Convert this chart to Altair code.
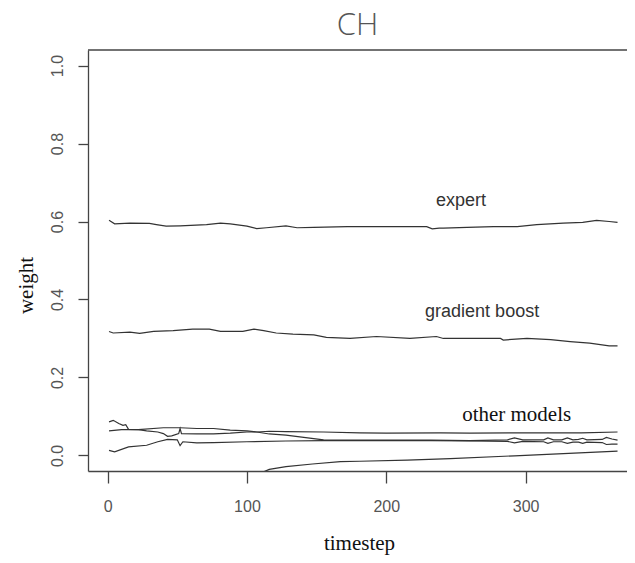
import altair as alt
import pandas as pd

# ---- data ----
expert_t = [1, 5, 16, 30, 35, 42, 52, 71, 81, 88, 100, 107, 114, 128, 136, 148, 172, 190, 229, 233, 238, 241, 258, 277, 294, 308, 327, 341, 351, 360, 366]
expert_v = [0.603, 0.594, 0.596, 0.595, 0.592, 0.588, 0.589, 0.592, 0.596, 0.594, 0.588, 0.582, 0.584, 0.589, 0.584, 0.585, 0.587, 0.587, 0.587, 0.581, 0.583, 0.583, 0.585, 0.587, 0.587, 0.592, 0.596, 0.598, 0.603, 0.600, 0.598]

gb_t = [1, 4, 16, 23, 33, 47, 61, 73, 81, 97, 105, 112, 121, 133, 148, 157, 174, 193, 217, 236, 241, 282, 284, 301, 318, 332, 346, 360, 366]
gb_v = [0.318, 0.314, 0.316, 0.313, 0.318, 0.320, 0.324, 0.324, 0.318, 0.318, 0.324, 0.320, 0.314, 0.311, 0.309, 0.303, 0.300, 0.305, 0.300, 0.305, 0.300, 0.300, 0.296, 0.300, 0.297, 0.292, 0.288, 0.281, 0.281]

b_t = [1, 10, 22, 40, 52, 64, 76, 88, 100, 107, 116, 128, 155, 181, 200, 239, 260, 300, 340, 366]
b_v = [0.063, 0.066, 0.066, 0.071, 0.071, 0.069, 0.069, 0.065, 0.063, 0.060, 0.062, 0.061, 0.060, 0.058, 0.057, 0.058, 0.057, 0.058, 0.058, 0.060]

a_t = [1, 4, 8, 11, 13, 15, 22, 28, 36, 40, 43, 46, 51, 52, 53, 64, 76, 88, 100, 107, 116, 128, 155, 181, 232, 260, 287, 292, 298, 313, 316, 320, 326, 330, 334, 338, 341, 344, 355, 358, 362, 366]
a_v = [0.086, 0.090, 0.082, 0.077, 0.079, 0.067, 0.066, 0.063, 0.060, 0.056, 0.049, 0.050, 0.056, 0.069, 0.056, 0.055, 0.055, 0.057, 0.060, 0.060, 0.055, 0.052, 0.040, 0.039, 0.039, 0.038, 0.040, 0.045, 0.040, 0.040, 0.045, 0.040, 0.040, 0.045, 0.040, 0.041, 0.044, 0.040, 0.041, 0.046, 0.042, 0.039]

c_t = [1, 5, 15, 28, 36, 43, 50, 52, 54, 64, 76, 100, 128, 155, 181, 232, 260, 287, 292, 298, 313, 316, 320, 326, 330, 334, 338, 341, 344, 355, 358, 362, 366]
c_v = [0.013, 0.009, 0.022, 0.026, 0.035, 0.041, 0.040, 0.025, 0.035, 0.032, 0.033, 0.035, 0.037, 0.038, 0.038, 0.038, 0.037, 0.036, 0.032, 0.036, 0.035, 0.031, 0.035, 0.035, 0.031, 0.034, 0.034, 0.031, 0.034, 0.033, 0.028, 0.029, 0.029]

d_t = [110, 116, 128, 147, 167, 181, 215, 246, 292, 331, 366]
d_v = [-0.045, -0.036, -0.029, -0.022, -0.016, -0.015, -0.012, -0.008, -0.001, 0.005, 0.011]

x_ticks = [0, 100, 200, 300]
y_ticks = [0.0, 0.2, 0.4, 0.6, 0.8, 1.0]

sans_labels = ["expert", "gradient boost"]
sans_t = [253.6, 268.8]
sans_v = [0.641, 0.354]
serif_labels = ["other models"]
serif_t = [293.6]
serif_v = [0.088]

chart_title = "CH"

# ---- tables ----
rows = []
for name, ts, vs in [("expert", expert_t, expert_v), ("gb", gb_t, gb_v),
                     ("a", a_t, a_v), ("b", b_t, b_v), ("c", c_t, c_v), ("d", d_t, d_v)]:
    for t, v in zip(ts, vs):
        rows.append({"series": name, "t": t, "v": v})
lines_df = pd.DataFrame(rows)
sans_df = pd.DataFrame({"label": sans_labels, "t": sans_t, "v": sans_v})
serif_df = pd.DataFrame({"label": serif_labels, "t": serif_t, "v": serif_v})
title_df = pd.DataFrame({"label": [chart_title]})

W, H = 539, 421
xscale = alt.Scale(domain=[-14.1, 372.8], nice=False, zero=False)
yscale = alt.Scale(domain=[-0.04, 1.04], nice=False, zero=False)

x_enc = alt.X("t:Q", scale=xscale, axis=alt.Axis(
    values=x_ticks, title="timestep", grid=False,
    tickSize=12, labelPadding=15, labelFontSize=16, labelFont="Liberation Sans",
    labelColor="#555", domainColor="#444", tickColor="#444", domainWidth=1.3, tickWidth=1.3,
    titleFont="Liberation Serif", titleFontSize=21, titleFontWeight="normal", titleColor="#111",
    titleX=271, titleY=78, titleBaseline="alphabetic", titleAlign="center"))
y_enc = alt.Y("v:Q", scale=yscale, axis=alt.Axis(
    values=y_ticks, format=".1f", title="weight", grid=False,
    tickSize=10, labelPadding=16, labelFontSize=16, labelFont="Liberation Sans",
    labelColor="#555", labelAngle=270, labelAlign="center", labelBaseline="alphabetic",
    domainColor="#444", tickColor="#444", domainWidth=1.3, tickWidth=1.3,
    titleFont="Liberation Serif", titleFontSize=21, titleFontWeight="normal", titleColor="#111",
    titleAngle=270, titleX=-56, titleY=235, titleBaseline="alphabetic", titleAlign="center"))

lines = alt.Chart(lines_df).mark_line(color="#333", strokeWidth=1.2, clip=True).encode(
    x=x_enc, y=y_enc, detail="series:N", order="t:Q")

sans_text = alt.Chart(sans_df).mark_text(
    font="Liberation Sans", fontSize=18, color="#333", align="center", baseline="alphabetic"
).encode(x="t:Q", y="v:Q", text="label:N")

serif_text = alt.Chart(serif_df).mark_text(
    font="Liberation Serif", fontSize=21, color="#111", align="center", baseline="alphabetic"
).encode(x="t:Q", y="v:Q", text="label:N")

title_text = alt.Chart(title_df).mark_text(
    font="Open Sans", fontSize=31, fontWeight=300, color="#555", align="center", baseline="alphabetic"
).encode(x=alt.value(W / 2), y=alt.value(-15), text="label:N")

top_border = alt.Chart(pd.DataFrame({"k": [0]})).mark_rule(color="#444", strokeWidth=1.3).encode(
    x=alt.value(0), x2=alt.value(W), y=alt.value(0))

chart = alt.layer(lines, sans_text, serif_text, title_text, top_border).properties(
    width=W, height=H,
    autosize=alt.AutoSizeParams(type="none"),
    padding={"left": 80, "top": 42, "right": 0, "bottom": 84},
).configure_view(stroke=None)

chart.save("out.html", embed_options={"renderer": "svg", "actions": False})
